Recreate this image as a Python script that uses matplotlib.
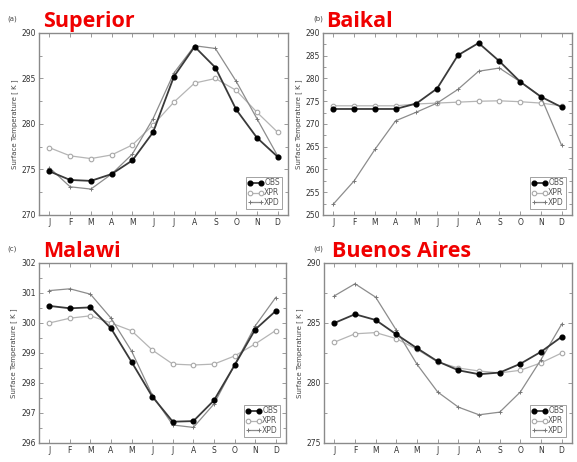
import numpy as np
import matplotlib
matplotlib.use("Agg")
import matplotlib.pyplot as plt
from matplotlib.ticker import MultipleLocator

months = ["J", "F", "M", "A", "M", "J", "J", "A", "S", "O", "N", "D"]

# lake surface temperatures [K]
superior_obs = [274.8, 273.85, 273.75, 274.5, 276.0, 279.1, 285.2, 288.5, 286.2, 281.6, 278.5, 276.4]
superior_xpr = [277.4, 276.5, 276.2, 276.6, 277.7, 279.9, 282.4, 284.5, 285.0, 283.7, 281.3, 279.1]
superior_xpd = [275.2, 273.1, 272.85, 274.5, 276.7, 280.6, 285.6, 288.6, 288.3, 284.7, 280.6, 276.5]

baikal_obs = [273.3, 273.3, 273.3, 273.3, 274.5, 277.8, 285.1, 287.8, 283.8, 279.3, 276.0, 273.7]
baikal_xpr = [274.0, 274.0, 274.0, 274.0, 274.4, 274.6, 274.8, 275.0, 275.1, 274.9, 274.6, 274.0]
baikal_xpd = [252.4, 257.5, 264.4, 270.7, 272.6, 274.6, 277.6, 281.6, 282.3, 279.3, 276.0, 265.3]

malawi_obs = [300.57, 300.49, 300.52, 299.82, 298.7, 297.55, 296.71, 296.73, 297.42, 298.59, 299.78, 300.40]
malawi_xpr = [300.0, 300.16, 300.24, 300.0, 299.74, 299.1, 298.63, 298.6, 298.63, 298.9, 299.3, 299.75]
malawi_xpd = [301.08, 301.14, 300.96, 300.16, 299.06, 297.6, 296.6, 296.52, 297.3, 298.6, 299.9, 300.85]

baires_obs = [285.0, 285.73, 285.25, 284.05, 282.9, 281.8, 281.06, 280.73, 280.87, 281.6, 282.6, 283.85]
baires_xpr = [283.4, 284.1, 284.2, 283.7, 282.8, 281.75, 281.25, 281.0, 280.84, 281.06, 281.68, 282.5]
baires_xpd = [287.26, 288.27, 287.15, 284.4, 281.56, 279.25, 277.99, 277.35, 277.57, 279.25, 281.95, 284.9]

panels = [
    ("(a)", "Superior", superior_obs, superior_xpr, superior_xpd, (270, 290), 5, 2.5),
    ("(b)", "Baikal", baikal_obs, baikal_xpr, baikal_xpd, (250, 290), 5, 2.5),
    ("(c)", "Malawi", malawi_obs, malawi_xpr, malawi_xpd, (296, 302), 1, 0.5),
    ("(d)", "Buenos Aires", baires_obs, baires_xpr, baires_xpd, (275, 290), 5, 2.5),
]

W, H = 577, 462
boxes = [(39, 33, 288, 215), (323, 33, 572, 215), (39, 263, 286, 443), (324, 263, 572, 443)]
title_x = [43, 326, 43, 332]
tag_x = [7, 313, 7, 313]

fig = plt.figure(figsize=(W / 100, H / 100), dpi=100)
x = np.arange(1, 13)
frame = "#8a8a8a"

for (tag, name, obs, xpr, xpd, ylim, major, minor), (l, t, r, b), tx, gx in zip(panels, boxes, title_x, tag_x):
    ax = fig.add_axes([l / W, 1 - b / H, (r - l) / W, (b - t) / H])
    ax.plot(x, xpr, color="#b5b5b5", lw=0.9, marker="o", ms=3.3, mfc="white", mec="#a8a8a8", mew=0.8, label="XPR")
    ax.plot(x, xpd, color="#8c8c8c", lw=0.9, marker="+", ms=3, mec="#777777", mew=0.7, label="XPD")
    ax.plot(x, obs, color="#3a3a3a", lw=1.3, marker="o", ms=3.4, mfc="black", mec="black", label="OBS")
    ax.set_xlim(0.5, 12.5)
    ax.set_ylim(*ylim)
    ax.set_xticks(x)
    ax.set_xticklabels(months)
    ax.yaxis.set_major_locator(MultipleLocator(major))
    ax.yaxis.set_minor_locator(MultipleLocator(minor))
    ax.tick_params(which="both", direction="in", top=True, right=True, colors=frame,
                   labelcolor="#333333", labelsize=5.5, length=3, width=0.6, pad=2)
    ax.tick_params(which="minor", length=2)
    for s in ax.spines.values():
        s.set_color(frame)
        s.set_linewidth(1.0)
    ax.set_ylabel("Surface Temperature [ K ]", fontsize=5, color="#444444", labelpad=3)
    h, lab = ax.get_legend_handles_labels()
    order = [2, 0, 1]
    leg = ax.legend([h[i] for i in order], [lab[i] for i in order], loc="lower right", fontsize=5.5,
                    frameon=True, fancybox=False, edgecolor="#777777", handlelength=2.0, numpoints=2,
                    handletextpad=0.1, labelspacing=0.1, borderpad=0.25, borderaxespad=0.8)
    leg.get_frame().set_linewidth(0.6)
    for txt in leg.get_texts():
        txt.set_color("#555555")
    fig.text(tx / W, 1 - (t - 6) / H, name, color="#f00000", fontsize=15.5, fontweight="bold",
             family="Open Sans", va="baseline", ha="left")
    fig.text(gx / W, 1 - (t - 12) / H, tag, color="#444444", fontsize=5, va="baseline", ha="left")

fig.savefig("out.png", dpi=100)
